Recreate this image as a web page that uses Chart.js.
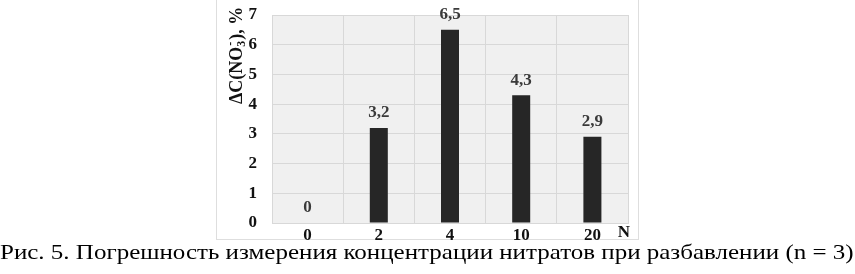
<!DOCTYPE html>
<html>
<head>
<meta charset="utf-8">
<script src="https://cdn.jsdelivr.net/npm/chart.js@4/dist/chart.umd.min.js"></script>
<style>
  html, body { margin: 0; padding: 0; background: #ffffff; }
  #wrap { position: relative; width: 855px; height: 274px; overflow: hidden; }
  #frame { position: absolute; left: 216px; top: -3px; width: 423px; height: 243px; border: 1px solid #dedede; box-sizing: border-box; }
  #c { position: absolute; left: 0; top: 0; }
  #caption { position: absolute; left: 0; top: 240px; font-family: "Liberation Serif", "Times New Roman", serif; font-size: 21px; line-height: 24px; white-space: nowrap; color: #000; transform: scaleX(1.19); transform-origin: 0 0; }
</style>
</head>
<body>
<div id="wrap">
  <div id="frame"></div>
  <canvas id="c" width="855" height="274"></canvas>
  <div id="caption">Рис. 5. Погрешность измерения концентрации нитратов при разбавлении (n = 3)</div>
</div>
<script>
const categories = ["0", "2", "4", "10", "20"];
const values = [0, 3.2, 6.5, 4.3, 2.9];
const valueLabels = ["0", "3,2", "6,5", "4,3", "2,9"];
const yTicks = [0, 1, 2, 3, 4, 5, 6, 7];
const xAxisName = "N";

const serif = "'Liberation Serif', 'Times New Roman', serif";

const decor = {
  id: 'decor',
  beforeDraw(chart) {
    const a = chart.chartArea, ctx = chart.ctx;
    ctx.save();
    ctx.fillStyle = '#f0f0f0';
    ctx.fillRect(a.left, a.top, a.right - a.left, a.bottom - a.top);
    ctx.restore();
  },
  afterDatasetsDraw(chart) {
    const ctx = chart.ctx, a = chart.chartArea;
    const meta = chart.getDatasetMeta(0);
    ctx.save();
    ctx.font = "bold 17px " + serif;
    ctx.fillStyle = '#3a3a3a';
    ctx.textAlign = 'center';
    ctx.textBaseline = 'middle';
    meta.data.forEach((bar, i) => {
      ctx.fillText(valueLabels[i], bar.x, bar.y - 15);
    });
    // axis name N
    ctx.fillStyle = '#111';
    ctx.textBaseline = 'middle';
    ctx.fillText(xAxisName, 624, chart.scales.x.top + 10);
    // y title with sub/superscript, rotated
    ctx.translate(237, 104);
    ctx.rotate(-Math.PI / 2);
    ctx.textAlign = 'left';
    ctx.textBaseline = 'middle';
    let x = 0;
    const big = "bold 18px " + serif, small = "bold 12px " + serif;
    ctx.font = big; ctx.fillText("ΔC(NO", x, 0); x += ctx.measureText("ΔC(NO").width;
    ctx.font = small; ctx.fillText("3", x, 5); ctx.fillText("-", x + 1, -6); x += ctx.measureText("3").width + 1;
    ctx.font = big; ctx.fillText("), %", x, 0);
    ctx.restore();
  }
};

new Chart(document.getElementById('c'), {
  type: 'bar',
  data: {
    labels: categories,
    datasets: [{
      data: values,
      backgroundColor: '#262626',
      borderWidth: 0,
      barPercentage: 0.253,
      categoryPercentage: 1.0
    }]
  },
  options: {
    responsive: false,
    animation: false,
    devicePixelRatio: 1,
    layout: { padding: { left: 216, right: 227, top: 15, bottom: 31 } },
    plugins: { legend: { display: false }, tooltip: { enabled: false } },
    scales: {
      x: {
        grid: { color: '#d8d8d8', drawTicks: false, offset: true },
        border: { color: '#d8d8d8' },
        ticks: { color: '#111', font: { family: serif, size: 17, weight: 'bold' }, padding: 2 },
        afterFit(s) { s.height = 20; s.paddingLeft = 0; s.paddingRight = 0; }
      },
      y: {
        min: 0, max: 7,
        afterBuildTicks(s) { s.ticks = yTicks.map(v => ({ value: v })); },
        grid: { color: '#d8d8d8', drawTicks: false },
        border: { color: '#d8d8d8' },
        ticks: { color: '#111', font: { family: serif, size: 17, weight: 'bold' }, padding: 15 },
        afterFit(s) { s.width = 56; s.paddingTop = 0; s.paddingBottom = 0; }
      }
    }
  },
  plugins: [decor]
});
</script>
</body>
</html>
